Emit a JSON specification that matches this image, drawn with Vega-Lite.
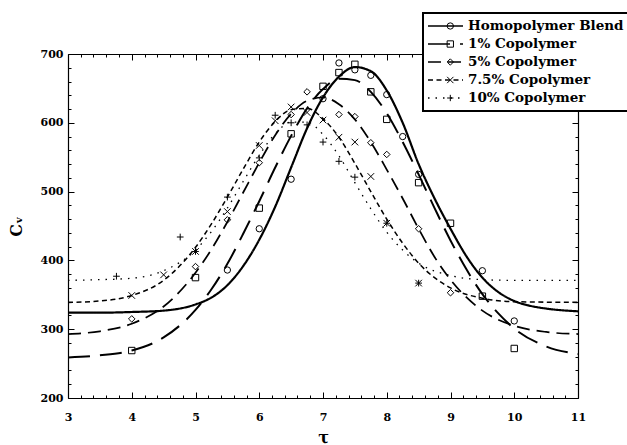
{
  "$schema": "https://vega.github.io/schema/vega-lite/v6.json",
  "autosize": {"type": "none"},
  "width": 510,
  "height": 344,
  "padding": {"left": 68, "top": 54, "right": 49, "bottom": 47},
  "background": "white",
  "config": {
    "view": {"stroke": null},
    "axis": {
      "domainColor": "black", "domainWidth": 1.2, "tickColor": "black", "tickWidth": 1,
      "labelColor": "black", "titleColor": "black", "grid": false,
      "labelFont": "DejaVu Serif", "labelFontWeight": "bold", "labelFontSize": 11,
      "titleFont": "DejaVu Serif", "titleFontWeight": "bold", "titleFontSize": 16,
      "labelOverlap": false, "labelFlush": false
    }
  },
  "resolve": {"axis": {"x": "independent", "y": "independent"}},
  "layer": [
    {
      "data": {"values": [
        {"curve": "Homopolymer Blend", "x": 3, "y": 324}, {"curve": "Homopolymer Blend", "x": 3.5, "y": 324}, {"curve": "Homopolymer Blend", "x": 4, "y": 325}, {"curve": "Homopolymer Blend", "x": 4.5, "y": 327}, {"curve": "Homopolymer Blend", "x": 5, "y": 336}, {"curve": "Homopolymer Blend", "x": 5.25, "y": 346}, {"curve": "Homopolymer Blend", "x": 5.5, "y": 364}, {"curve": "Homopolymer Blend", "x": 5.75, "y": 392}, {"curve": "Homopolymer Blend", "x": 6, "y": 430}, {"curve": "Homopolymer Blend", "x": 6.25, "y": 478}, {"curve": "Homopolymer Blend", "x": 6.5, "y": 535}, {"curve": "Homopolymer Blend", "x": 6.75, "y": 592}, {"curve": "Homopolymer Blend", "x": 7, "y": 637}, {"curve": "Homopolymer Blend", "x": 7.25, "y": 667}, {"curve": "Homopolymer Blend", "x": 7.5, "y": 681}, {"curve": "Homopolymer Blend", "x": 7.75, "y": 675}, {"curve": "Homopolymer Blend", "x": 8, "y": 647}, {"curve": "Homopolymer Blend", "x": 8.25, "y": 600}, {"curve": "Homopolymer Blend", "x": 8.5, "y": 540}, {"curve": "Homopolymer Blend", "x": 8.75, "y": 490}, {"curve": "Homopolymer Blend", "x": 9, "y": 446}, {"curve": "Homopolymer Blend", "x": 9.25, "y": 406}, {"curve": "Homopolymer Blend", "x": 9.5, "y": 375}, {"curve": "Homopolymer Blend", "x": 9.75, "y": 354}, {"curve": "Homopolymer Blend", "x": 10, "y": 341}, {"curve": "Homopolymer Blend", "x": 10.25, "y": 334}, {"curve": "Homopolymer Blend", "x": 10.5, "y": 330}, {"curve": "Homopolymer Blend", "x": 11, "y": 326},
        {"curve": "1% Copolymer", "x": 3, "y": 259}, {"curve": "1% Copolymer", "x": 3.5, "y": 262}, {"curve": "1% Copolymer", "x": 4, "y": 269}, {"curve": "1% Copolymer", "x": 4.5, "y": 288}, {"curve": "1% Copolymer", "x": 5, "y": 328}, {"curve": "1% Copolymer", "x": 5.25, "y": 358}, {"curve": "1% Copolymer", "x": 5.5, "y": 395}, {"curve": "1% Copolymer", "x": 5.75, "y": 439}, {"curve": "1% Copolymer", "x": 6, "y": 486}, {"curve": "1% Copolymer", "x": 6.25, "y": 535}, {"curve": "1% Copolymer", "x": 6.5, "y": 581}, {"curve": "1% Copolymer", "x": 6.75, "y": 621}, {"curve": "1% Copolymer", "x": 7, "y": 649}, {"curve": "1% Copolymer", "x": 7.25, "y": 664}, {"curve": "1% Copolymer", "x": 7.5, "y": 662}, {"curve": "1% Copolymer", "x": 7.75, "y": 645}, {"curve": "1% Copolymer", "x": 8, "y": 614}, {"curve": "1% Copolymer", "x": 8.25, "y": 572}, {"curve": "1% Copolymer", "x": 8.5, "y": 525}, {"curve": "1% Copolymer", "x": 8.75, "y": 476}, {"curve": "1% Copolymer", "x": 9, "y": 429}, {"curve": "1% Copolymer", "x": 9.25, "y": 387}, {"curve": "1% Copolymer", "x": 9.5, "y": 351}, {"curve": "1% Copolymer", "x": 9.75, "y": 323}, {"curve": "1% Copolymer", "x": 10, "y": 301}, {"curve": "1% Copolymer", "x": 10.5, "y": 275}, {"curve": "1% Copolymer", "x": 11, "y": 264},
        {"curve": "5% Copolymer", "x": 3, "y": 293}, {"curve": "5% Copolymer", "x": 3.5, "y": 297}, {"curve": "5% Copolymer", "x": 4, "y": 308}, {"curve": "5% Copolymer", "x": 4.5, "y": 333}, {"curve": "5% Copolymer", "x": 5, "y": 382}, {"curve": "5% Copolymer", "x": 5.25, "y": 416}, {"curve": "5% Copolymer", "x": 5.5, "y": 456}, {"curve": "5% Copolymer", "x": 5.75, "y": 499}, {"curve": "5% Copolymer", "x": 6, "y": 542}, {"curve": "5% Copolymer", "x": 6.25, "y": 582}, {"curve": "5% Copolymer", "x": 6.5, "y": 613}, {"curve": "5% Copolymer", "x": 6.75, "y": 632}, {"curve": "5% Copolymer", "x": 7, "y": 637}, {"curve": "5% Copolymer", "x": 7.25, "y": 627}, {"curve": "5% Copolymer", "x": 7.5, "y": 605}, {"curve": "5% Copolymer", "x": 7.75, "y": 572}, {"curve": "5% Copolymer", "x": 8, "y": 532}, {"curve": "5% Copolymer", "x": 8.25, "y": 490}, {"curve": "5% Copolymer", "x": 8.5, "y": 446}, {"curve": "5% Copolymer", "x": 8.75, "y": 405}, {"curve": "5% Copolymer", "x": 9, "y": 372}, {"curve": "5% Copolymer", "x": 9.5, "y": 327}, {"curve": "5% Copolymer", "x": 10, "y": 305}, {"curve": "5% Copolymer", "x": 10.5, "y": 296}, {"curve": "5% Copolymer", "x": 11, "y": 293},
        {"curve": "7.5% Copolymer", "x": 3, "y": 339}, {"curve": "7.5% Copolymer", "x": 3.5, "y": 341}, {"curve": "7.5% Copolymer", "x": 4, "y": 349}, {"curve": "7.5% Copolymer", "x": 4.5, "y": 371}, {"curve": "7.5% Copolymer", "x": 5, "y": 419}, {"curve": "7.5% Copolymer", "x": 5.25, "y": 453}, {"curve": "7.5% Copolymer", "x": 5.5, "y": 492}, {"curve": "7.5% Copolymer", "x": 5.75, "y": 533}, {"curve": "7.5% Copolymer", "x": 6, "y": 572}, {"curve": "7.5% Copolymer", "x": 6.25, "y": 602}, {"curve": "7.5% Copolymer", "x": 6.5, "y": 619}, {"curve": "7.5% Copolymer", "x": 6.75, "y": 621}, {"curve": "7.5% Copolymer", "x": 7, "y": 606}, {"curve": "7.5% Copolymer", "x": 7.25, "y": 579}, {"curve": "7.5% Copolymer", "x": 7.5, "y": 541}, {"curve": "7.5% Copolymer", "x": 7.75, "y": 500}, {"curve": "7.5% Copolymer", "x": 8, "y": 460}, {"curve": "7.5% Copolymer", "x": 8.25, "y": 425}, {"curve": "7.5% Copolymer", "x": 8.5, "y": 396}, {"curve": "7.5% Copolymer", "x": 9, "y": 360}, {"curve": "7.5% Copolymer", "x": 9.5, "y": 345}, {"curve": "7.5% Copolymer", "x": 10, "y": 340}, {"curve": "7.5% Copolymer", "x": 11, "y": 339},
        {"curve": "10% Copolymer", "x": 3, "y": 371}, {"curve": "10% Copolymer", "x": 3.5, "y": 372}, {"curve": "10% Copolymer", "x": 4, "y": 374}, {"curve": "10% Copolymer", "x": 4.5, "y": 385}, {"curve": "10% Copolymer", "x": 5, "y": 415}, {"curve": "10% Copolymer", "x": 5.25, "y": 442}, {"curve": "10% Copolymer", "x": 5.5, "y": 476}, {"curve": "10% Copolymer", "x": 5.75, "y": 515}, {"curve": "10% Copolymer", "x": 6, "y": 553}, {"curve": "10% Copolymer", "x": 6.25, "y": 584}, {"curve": "10% Copolymer", "x": 6.5, "y": 601}, {"curve": "10% Copolymer", "x": 6.75, "y": 601}, {"curve": "10% Copolymer", "x": 7, "y": 583}, {"curve": "10% Copolymer", "x": 7.25, "y": 552}, {"curve": "10% Copolymer", "x": 7.5, "y": 513}, {"curve": "10% Copolymer", "x": 7.75, "y": 475}, {"curve": "10% Copolymer", "x": 8, "y": 441}, {"curve": "10% Copolymer", "x": 8.25, "y": 415}, {"curve": "10% Copolymer", "x": 8.5, "y": 396}, {"curve": "10% Copolymer", "x": 9, "y": 378}, {"curve": "10% Copolymer", "x": 9.5, "y": 372}, {"curve": "10% Copolymer", "x": 10, "y": 371}, {"curve": "10% Copolymer", "x": 11, "y": 371}
      ]},
      "mark": {"type": "line", "interpolate": "monotone", "color": "black", "strokeCap": "butt", "clip": true},
      "encoding": {
        "x": {"field": "x", "type": "quantitative", "scale": {"domain": [3, 11], "nice": false, "zero": false},
          "axis": {"orient": "bottom", "title": "τ", "titlePadding": 4,
            "values": [3,3.2,3.4,3.6,3.8,4,4.2,4.4,4.6,4.8,5,5.2,5.4,5.6,5.8,6,6.2,6.4,6.6,6.8,7,7.2,7.4,7.6,7.8,8,8.2,8.4,8.6,8.8,9,9.2,9.4,9.6,9.8,10,10.2,10.4,10.6,10.8,11],
            "tickSize": {"condition": {"test": "datum.value % 1 === 0", "value": -6}, "value": -3},
            "labelExpr": "datum.value % 1 === 0 ? '' + datum.value : ''", "labelPadding": 19}},
        "y": {"field": "y", "type": "quantitative", "scale": {"domain": [200, 700], "nice": false, "zero": false},
          "axis": {"orient": "left", "title": "Cᵥ", "titlePadding": 16,
            "values": [200,220,240,260,280,300,320,340,360,380,400,420,440,460,480,500,520,540,560,580,600,620,640,660,680,700],
            "tickSize": {"condition": {"test": "datum.value % 100 === 0", "value": -6}, "value": -3},
            "labelExpr": "datum.value % 100 === 0 ? '' + datum.value : ''", "labelPadding": 11}},
        "strokeDash": {"field": "curve", "type": "nominal",
          "sort": ["Homopolymer Blend", "1% Copolymer", "5% Copolymer", "7.5% Copolymer", "10% Copolymer"],
          "scale": {"range": [[1, 0], [22, 10], [13, 7], [5, 3.5], [1.5, 6]]},
          "legend": {"orient": "none", "legendX": 355, "legendY": -41, "title": null, "symbolType": "stroke",
            "symbolSize": 1225, "clipHeight": 18, "rowPadding": 0, "padding": 4, "symbolOffset": 0, "labelOffset": 4,
            "fillColor": "white", "strokeColor": "black", "symbolStrokeColor": "black", "symbolStrokeWidth": 1.4,
            "labelFont": "DejaVu Serif", "labelFontWeight": "bold", "labelFontSize": 13.5, "labelColor": "black", "labelLimit": 400,
            "encode": {"legend": {"update": {"strokeWidth": {"value": 2}}}}}},
        "strokeWidth": {"field": "curve", "type": "nominal",
          "sort": ["Homopolymer Blend", "1% Copolymer", "5% Copolymer", "7.5% Copolymer", "10% Copolymer"],
          "scale": {"range": [2.2, 1.3, 1.3, 1.3, 1.5]}, "legend": null}
      }
    },
    {
      "data": {"values": [
        {"series": "Homopolymer Blend", "x": 5.5, "y": 386}, {"series": "Homopolymer Blend", "x": 6, "y": 446}, {"series": "Homopolymer Blend", "x": 6.5, "y": 518}, {"series": "Homopolymer Blend", "x": 7, "y": 635}, {"series": "Homopolymer Blend", "x": 7.25, "y": 687}, {"series": "Homopolymer Blend", "x": 7.5, "y": 677}, {"series": "Homopolymer Blend", "x": 7.75, "y": 669}, {"series": "Homopolymer Blend", "x": 8, "y": 641}, {"series": "Homopolymer Blend", "x": 8.25, "y": 580}, {"series": "Homopolymer Blend", "x": 8.5, "y": 525}, {"series": "Homopolymer Blend", "x": 9.5, "y": 385}, {"series": "Homopolymer Blend", "x": 10, "y": 312},
        {"series": "1% Copolymer", "x": 4, "y": 269}, {"series": "1% Copolymer", "x": 5, "y": 375}, {"series": "1% Copolymer", "x": 6, "y": 476}, {"series": "1% Copolymer", "x": 6.5, "y": 584}, {"series": "1% Copolymer", "x": 7, "y": 653}, {"series": "1% Copolymer", "x": 7.25, "y": 673}, {"series": "1% Copolymer", "x": 7.5, "y": 685}, {"series": "1% Copolymer", "x": 7.75, "y": 645}, {"series": "1% Copolymer", "x": 8, "y": 605}, {"series": "1% Copolymer", "x": 8.5, "y": 513}, {"series": "1% Copolymer", "x": 9, "y": 454}, {"series": "1% Copolymer", "x": 9.5, "y": 348}, {"series": "1% Copolymer", "x": 10, "y": 272},
        {"series": "5% Copolymer", "x": 4, "y": 315}, {"series": "5% Copolymer", "x": 5, "y": 391}, {"series": "5% Copolymer", "x": 5.5, "y": 459}, {"series": "5% Copolymer", "x": 6, "y": 542}, {"series": "5% Copolymer", "x": 6.5, "y": 612}, {"series": "5% Copolymer", "x": 6.75, "y": 645}, {"series": "5% Copolymer", "x": 7.25, "y": 612}, {"series": "5% Copolymer", "x": 7.5, "y": 609}, {"series": "5% Copolymer", "x": 7.75, "y": 571}, {"series": "5% Copolymer", "x": 8, "y": 554}, {"series": "5% Copolymer", "x": 8.5, "y": 446}, {"series": "5% Copolymer", "x": 9, "y": 353},
        {"series": "7.5% Copolymer", "x": 4, "y": 349}, {"series": "7.5% Copolymer", "x": 4.5, "y": 379}, {"series": "7.5% Copolymer", "x": 5, "y": 413}, {"series": "7.5% Copolymer", "x": 5.5, "y": 471}, {"series": "7.5% Copolymer", "x": 6, "y": 567}, {"series": "7.5% Copolymer", "x": 6.25, "y": 603}, {"series": "7.5% Copolymer", "x": 6.5, "y": 623}, {"series": "7.5% Copolymer", "x": 6.75, "y": 615}, {"series": "7.5% Copolymer", "x": 7, "y": 604}, {"series": "7.5% Copolymer", "x": 7.25, "y": 579}, {"series": "7.5% Copolymer", "x": 7.5, "y": 572}, {"series": "7.5% Copolymer", "x": 7.75, "y": 522}, {"series": "7.5% Copolymer", "x": 8, "y": 454}, {"series": "7.5% Copolymer", "x": 8.5, "y": 367},
        {"series": "10% Copolymer", "x": 3.76, "y": 377}, {"series": "10% Copolymer", "x": 4.76, "y": 434}, {"series": "10% Copolymer", "x": 5, "y": 413}, {"series": "10% Copolymer", "x": 5.5, "y": 492}, {"series": "10% Copolymer", "x": 6, "y": 549}, {"series": "10% Copolymer", "x": 6.25, "y": 611}, {"series": "10% Copolymer", "x": 6.5, "y": 600}, {"series": "10% Copolymer", "x": 6.75, "y": 597}, {"series": "10% Copolymer", "x": 7, "y": 572}, {"series": "10% Copolymer", "x": 7.25, "y": 544}, {"series": "10% Copolymer", "x": 7.5, "y": 521}, {"series": "10% Copolymer", "x": 8, "y": 454}, {"series": "10% Copolymer", "x": 8.5, "y": 367}
      ]},
      "mark": {"type": "point", "filled": false, "color": "black", "strokeWidth": 1, "opacity": 1},
      "encoding": {
        "x": {"field": "x", "type": "quantitative",
          "axis": {"orient": "top", "title": null, "labels": false,
            "values": [3,3.2,3.4,3.6,3.8,4,4.2,4.4,4.6,4.8,5,5.2,5.4,5.6,5.8,6,6.2,6.4,6.6,6.8,7,7.2,7.4,7.6,7.8,8,8.2,8.4,8.6,8.8,9,9.2,9.4,9.6,9.8,10,10.2,10.4,10.6,10.8,11],
            "tickSize": {"condition": {"test": "datum.value % 1 === 0", "value": -6}, "value": -3}}},
        "y": {"field": "y", "type": "quantitative",
          "axis": {"orient": "right", "title": null, "labels": false,
            "values": [200,220,240,260,280,300,320,340,360,380,400,420,440,460,480,500,520,540,560,580,600,620,640,660,680,700],
            "tickSize": {"condition": {"test": "datum.value % 100 === 0", "value": -6}, "value": -3}}},
        "shape": {"field": "series", "type": "nominal",
          "sort": ["Homopolymer Blend", "1% Copolymer", "5% Copolymer", "7.5% Copolymer", "10% Copolymer"],
          "scale": {"range": ["circle", "square", "diamond", "M-1,-1L1,1M1,-1L-1,1", "M-1,0L1,0M0,-1L0,1"]},
          "legend": {"orient": "none", "legendX": 355, "legendY": -41, "title": null, "symbolSize": 40,
            "symbolOffset": 18.3, "clipHeight": 18, "rowPadding": 0, "padding": 4, "labelOpacity": 0,
            "symbolStrokeColor": "black", "symbolStrokeWidth": 1, "zindex": 1}},
        "size": {"field": "series", "type": "nominal",
          "sort": ["Homopolymer Blend", "1% Copolymer", "5% Copolymer", "7.5% Copolymer", "10% Copolymer"],
          "scale": {"range": [40, 45, 32, 60, 64]}, "legend": null}
      }
    }
  ]
}
